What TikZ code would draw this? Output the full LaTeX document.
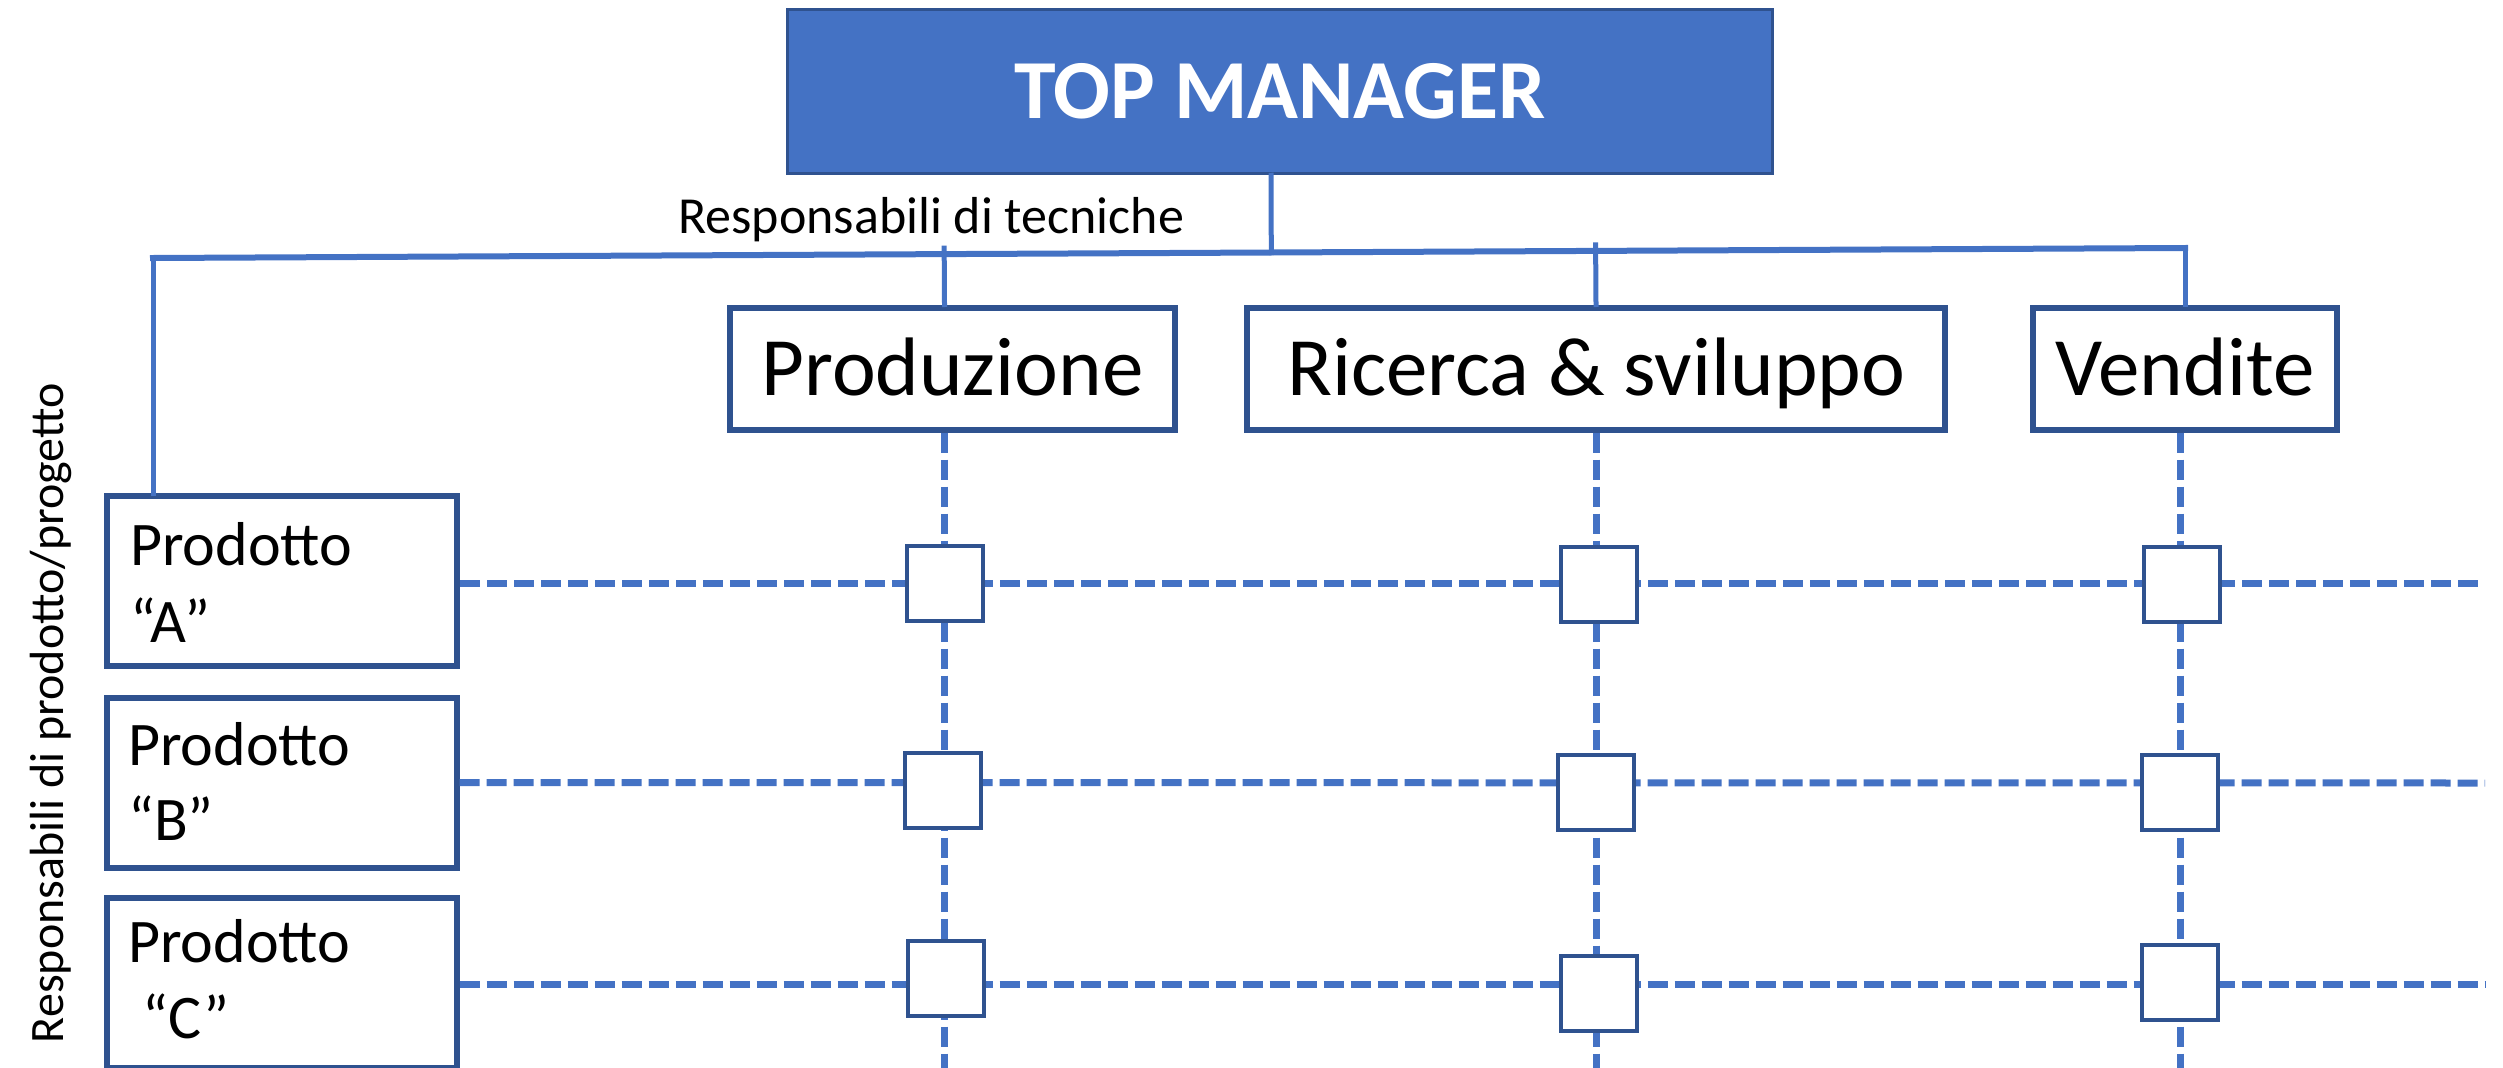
\documentclass[tikz,border=0pt]{standalone}
\usepackage{fontspec}
\setmainfont{Carlito}
\usetikzlibrary{calc}
\definecolor{accent}{HTML}{4472C4}
\definecolor{dblue}{HTML}{2F528F}
\begin{document}
\begin{tikzpicture}[x=1pt,y=-1pt,
  bus/.style={accent, line width=6pt, line cap=rect},
  tick/.style={accent, line width=5pt, line cap=rect},
  gridline/.style={accent, line width=7pt, dash pattern=on 20pt off 7pt},
  topbox/.style={draw=dblue, line width=3.5pt, fill=accent, inner sep=0pt, text=white,
    text height=53pt, text depth=0pt, font=\bfseries\fontsize{84}{100}\selectfont},
  dept/.style={draw=dblue, line width=6pt, fill=white, inner sep=0pt,
    text height=53pt, text depth=0pt, minimum height=122pt, font=\fontsize{83}{99}\selectfont},
  prodbox/.style={draw=dblue, line width=6pt, fill=white, minimum width=350pt,
    minimum height=170pt, inner sep=0pt},
  ptext/.style={anchor=base west, inner sep=0pt, font=\fontsize{62}{74}\selectfont},
  cell/.style={draw=dblue, line width=4pt, fill=white, minimum width=76pt,
    minimum height=75pt, inner sep=0pt},
  lab/.style={inner sep=0pt, font=\fontsize{52}{62}\selectfont}]
\useasboundingbox (0,0) rectangle (2503,1068);
\clip (0,0) rectangle (2503,1068);

% boxes
\node[topbox, minimum width=985pt, minimum height=164pt] (top) at (1280,91.5) {TOP MANAGER};
\node[dept, minimum width=445pt] (prod) at (952.5,368.5) {Produzione};
\node[dept, minimum width=698pt] (rs) at (1596,368.5) {Ricerca \& sviluppo};
\node[dept, minimum width=304pt] (vend) at (2185,368.5) {Vendite};

\node[prodbox] (pA) at (282,581) {};
\node[prodbox] (pB) at (281.5,782.5) {};
\node[prodbox] (pC) at (281.5,983) {};

\node[ptext] (pA1) at (130,565) {Prodotto};
\node[ptext] (pA2) at (130,642) {“A”};
\node[ptext] (pB1) at (128,765) {Prodotto};
\node[ptext] (pB2) at (128,840) {“B”};
\node[ptext] (pC1) at (128,962) {Prodotto};
\node[ptext] (pC2) at (128,1038) {\ “C”};

% labels
\node[lab, anchor=base west] (rt) at (678,233) {Responsabili di tecniche};
\node[inner sep=0pt, font=\fontsize{48}{58}\selectfont, rotate=90, anchor=base] (rp)
  at (63,713) {Responsabili di prodotto/progetto};

% solid connectors
\coordinate (busL) at (153,258);
\coordinate (busR) at (2185,248);
\coordinate (tc) at ([xshift=-9pt]top.south);
\coordinate (pt) at ([xshift=-8pt]prod.north);
\coordinate (rt2) at (rs.north);
\draw[bus] (busL) -- (busR);
\draw[tick] (pA.north -| busL) -- (busL);
\draw[tick] (vend.north -| busR) -- (busR);
\draw[tick] (tc) -- ($(busL)!(tc)!(busR)$);
\draw[tick] (pt) -- ($(busL)!(pt)!(busR)$) -- ++(0,-6);
\draw[tick] (rt2) -- ($(busL)!(rt2)!(busR)$) -- ++(0,-6);

% dashed matrix lines
\draw[gridline] ([xshift=-8pt]prod.south) -- ++(0,660);
\draw[gridline] (rs.south) -- ++(0,660);
\draw[gridline] ([xshift=-5pt]vend.south) -- ++(0,660);
\draw[gridline] ([yshift=-2pt]pA.east) -- (2485,583);
\draw[gridline] (pB.east) -- (2485,783);
\draw[gridline] ([yshift=-1pt]pC.east) -- (2485,984);

% cells
\node[cell] (cA1) at (945,583) {};
\node[cell] (cA2) at (1599,584) {};
\node[cell] (cA3) at (2182,584) {};
\node[cell] (cB1) at (943,790) {};
\node[cell] (cB2) at (1596,792) {};
\node[cell] (cB3) at (2180,792) {};
\node[cell] (cC1) at (946,978) {};
\node[cell] (cC2) at (1599,993) {};
\node[cell] (cC3) at (2180,982) {};
\end{tikzpicture}
\end{document}
